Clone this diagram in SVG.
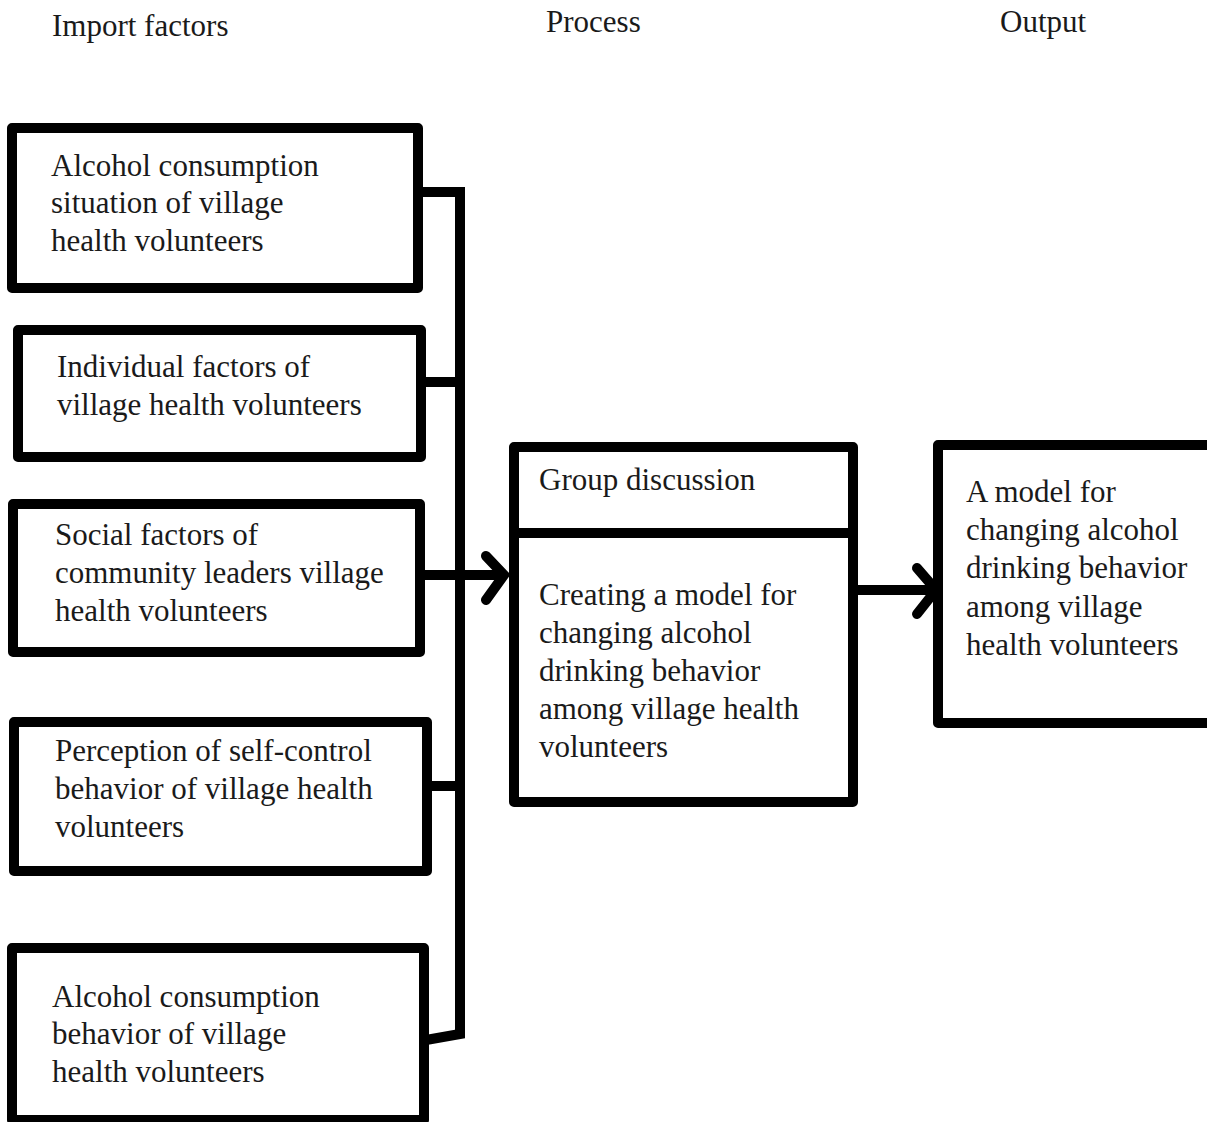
<svg xmlns="http://www.w3.org/2000/svg" width="1207" height="1122" viewBox="0 0 1207 1122">
<style>
.box{fill:#fff;stroke:#000;stroke-width:10;stroke-linejoin:round}
.ln{fill:none;stroke:#000;stroke-width:10;stroke-linejoin:miter}
.ah{fill:none;stroke:#000;stroke-width:10;stroke-linecap:round;stroke-linejoin:miter}
text{font-family:"Liberation Serif","Times New Roman",serif;font-size:31px;fill:#1a1a1a}
</style>
<rect width="1207" height="1122" fill="#fff"/>
<g id="headers">
<text x="52" y="36">Import factors</text>
<text x="546" y="32">Process</text>
<text x="1000" y="32">Output</text>
</g>
<g id="connectors">
<path class="ln" d="M418 192 H460 V1034 L426 1040"/>
<path class="ln" d="M421 382 H460"/>
<path class="ln" d="M426 786 H460"/>
<path class="ln" d="M420 575 H500"/>
<path class="ah" d="M486 556 L504 575 L486 600"/>
<path class="ln" d="M855 590 H933"/>
<path class="ah" d="M917 568 L936 590 L917 614"/>
</g>
<g id="n1">
<rect class="box" x="12" y="128" width="406" height="160"/>
<text x="51" y="176">Alcohol consumption</text>
<text x="51" y="213">situation of village</text>
<text x="51" y="251">health volunteers</text>
</g>
<g id="n2">
<rect class="box" x="18" y="330" width="403" height="127"/>
<text x="57" y="377">Individual factors of</text>
<text x="57" y="415">village health volunteers</text>
</g>
<g id="n3">
<rect class="box" x="13" y="504" width="407" height="148"/>
<text x="55" y="545">Social factors of</text>
<text x="55" y="583">community leaders village</text>
<text x="55" y="621">health volunteers</text>
</g>
<g id="n4">
<rect class="box" x="14" y="722" width="413" height="149"/>
<text x="55" y="761">Perception of self-control</text>
<text x="55" y="799">behavior of village health</text>
<text x="55" y="837">volunteers</text>
</g>
<g id="n5">
<rect class="box" x="12" y="948" width="412" height="172"/>
<text x="52" y="1007">Alcohol consumption</text>
<text x="52" y="1044">behavior of village</text>
<text x="52" y="1082">health volunteers</text>
</g>
<g id="process">
<rect class="box" x="514" y="447" width="339" height="355"/>
<path class="ln" d="M514 533 H853"/>
<text x="539" y="490">Group discussion</text>
<text x="539" y="605">Creating a model for</text>
<text x="539" y="643">changing alcohol</text>
<text x="539" y="681">drinking behavior</text>
<text x="539" y="719">among village health</text>
<text x="539" y="757">volunteers</text>
</g>
<g id="output">
<rect class="box" x="938" y="445" width="280" height="278"/>
<text x="966" y="502">A model for</text>
<text x="966" y="540">changing alcohol</text>
<text x="966" y="578">drinking behavior</text>
<text x="966" y="617">among village</text>
<text x="966" y="655">health volunteers</text>
</g>
</svg>
